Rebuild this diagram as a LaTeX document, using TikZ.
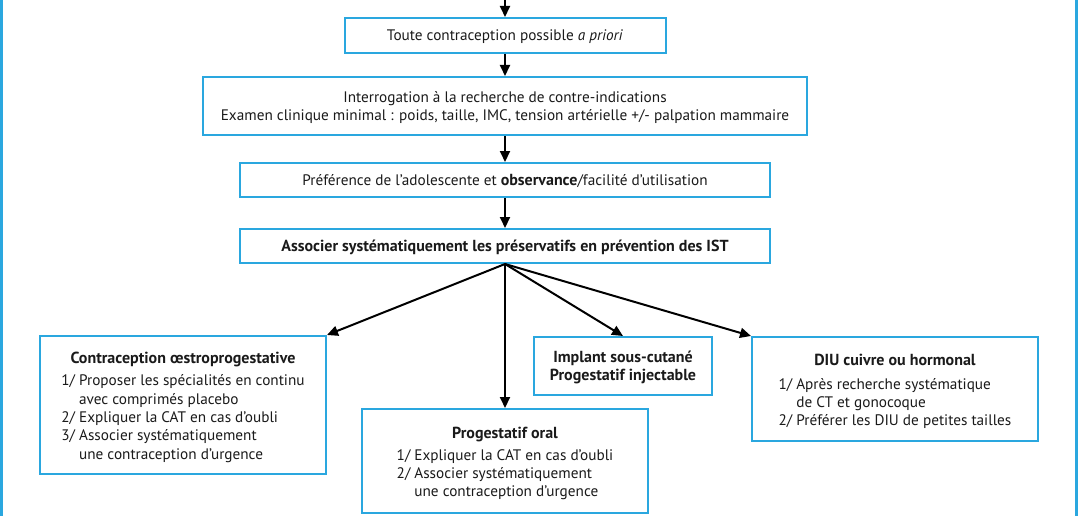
\documentclass[tikz,border=0pt]{standalone}
\usepackage{fontspec}
\setmainfont{PT Sans}
\usetikzlibrary{arrows.meta}
\definecolor{frameblue}{HTML}{2AA7DF}
\definecolor{txt}{HTML}{1A1A1A}
\newcommand\bft[1]{{\fontsize{16}{18.3}\selectfont\bfseries #1}}
\begin{document}
\begin{tikzpicture}[x=1pt,y=-1pt,
  box/.style={draw=frameblue, line width=2pt, inner sep=0pt, align=center, text=txt,
    text depth=0pt, font=\fontsize{15.25}{18.3}\selectfont},
  arr/.style={line width=2pt, draw=black, -{Triangle[length=11pt,width=10pt]}},
  sideline/.style={draw=frameblue, line width=3pt}]
\useasboundingbox (0,0) rectangle (1078,516);
\coordinate (fl1) at (1.5,0); \coordinate (fl2) at (1.5,516);
\coordinate (fr1) at (1076.5,0); \coordinate (fr2) at (1076.5,516);
\draw[sideline] (fl1) -- (fl2);
\draw[sideline] (fr1) -- (fr2);

\node[box, minimum width=321pt, minimum height=35pt] (b1) at (505,35.5)
  {Toute contraception possible \textit{a priori}};
\node[box, minimum width=604pt, minimum height=58pt] (b2) at (505,106)
  {Interrogation à la recherche de contre-indications\\
   Examen clinique minimal : poids, taille, IMC, tension artérielle +/- palpation mammaire};
\node[box, minimum width=530pt, minimum height=34pt] (b3) at (505,180)
  {Préférence de l’adolescente et \bft{observance}/facilité d’utilisation};
\node[box, minimum width=530pt, minimum height=34pt] (b4) at (505,246)
  {\bft{Associer systématiquement les préservatifs en prévention des IST}};

\node[box, minimum width=286pt, minimum height=138pt] (b5) at (183,405)
  {\bft{Contraception œstroprogestative}\strut\\[2.7pt]
   \begin{tabular}[b]{@{}l@{\hspace{4pt}}l@{}}
   1/ & Proposer les spécialités en continu\\
      & avec comprimés placebo\\
   2/ & Expliquer la CAT en cas d’oubli\\
   3/ & Associer systématiquement\\
      & une contraception d’urgence
   \end{tabular}};
\node[box, minimum width=286pt, minimum height=104pt] (b6) at (505,461)
  {\bft{Progestatif oral}\strut\\[2.7pt]
   \begin{tabular}[b]{@{}l@{\hspace{4pt}}l@{}}
   1/ & Expliquer la CAT en cas d’oubli\\
   2/ & Associer systématiquement\\
      & une contraception d’urgence
   \end{tabular}};
\node[box, minimum width=178pt, minimum height=58pt] (b7) at (623,366)
  {\bft{Implant sous-cutané}\\\bft{Progestatif injectable}};
\node[box, minimum width=286pt, minimum height=104pt] (b8) at (895,389)
  {\bft{DIU cuivre ou hormonal}\strut\\[4.7pt]
   \begin{tabular}[b]{@{}l@{\hspace{4pt}}l@{}}
   1/ & Après recherche systématique\\
      & de CT et gonocoque\\
   2/ & Préférer les DIU de petites tailles
   \end{tabular}};

\coordinate (start) at (505,0);
\draw[arr] (start) -- (b1.north);
\draw[arr] (b1.south) -- (b2.north);
\draw[arr] (b2.south) -- (b3.north);
\draw[arr] (b3.south) -- (b4.north);
\draw[arr] (b4.south) -- (b5.north east);
\draw[arr] (b4.south) -- (b6.north);
\draw[arr] (b4.south) -- (b7.north);
\draw[arr] (b4.south) -- (b8.north west);
\end{tikzpicture}
\end{document}
